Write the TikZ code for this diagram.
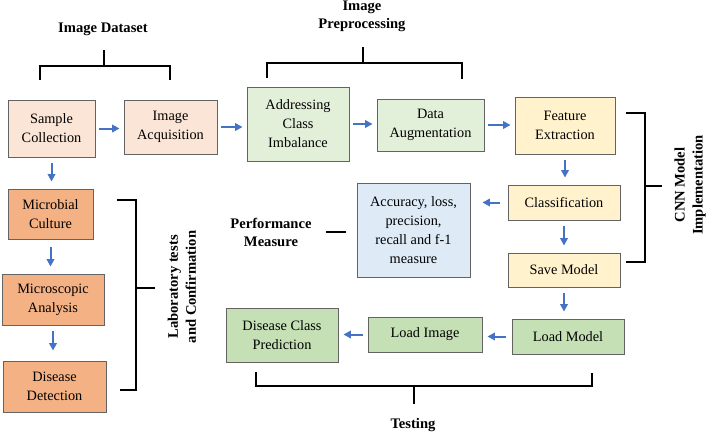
\documentclass[tikz,border=0pt]{standalone}
\usepackage{fontspec}
\setmainfont{Liberation Serif}
\usetikzlibrary{positioning,arrows.meta}

\definecolor{boxline}{HTML}{636363}
\definecolor{flowblue}{HTML}{4472C4}
\definecolor{peach}{HTML}{FBE5D6}
\definecolor{labor}{HTML}{F4B183}
\definecolor{paleg}{HTML}{E2F0D9}
\definecolor{leafg}{HTML}{C5E0B4}
\definecolor{cream}{HTML}{FFF2CC}
\definecolor{skyb}{HTML}{DEEBF7}

\begin{document}
\begin{tikzpicture}[x=1pt,y=-1pt,>={Triangle[length=7.5pt,width=7.5pt]},
    box/.style={draw=boxline, line width=0.9pt, rectangle, inner sep=0pt, align=center, font=\fontsize{14.3}{19}\selectfont},
    flow/.style={->, draw=flowblue, fill=flowblue, line width=2pt, shorten >=4pt, shorten <=4pt},
    drop/.style={flow, shorten >=7pt, shorten <=6pt},
    brace/.style={line width=2.2pt},
    heading/.style={font=\fontsize{14.6}{18}\selectfont\bfseries, align=center}]
    \useasboundingbox (0,0) rectangle (708,434);

    % image dataset and preprocessing row
    \node[box, fill=peach, minimum width=87pt, minimum height=57pt] (sample) at (51.5,128.5) {Sample\\Collection};
    \node[box, fill=peach, minimum width=93pt, minimum height=54pt] (acq) at (170.5,127) {Image\\Acquisition};
    \node[box, fill=paleg, minimum width=102pt, minimum height=74pt] (imbal) at (298,124) {Addressing\\Class\\Imbalance};
    \node[box, fill=paleg, minimum width=107pt, minimum height=52pt] (augm) at (430.5,125) {Data\\Augmentation};

    % cnn model
    \node[box, fill=cream, minimum width=100pt, minimum height=57pt] (feat) at (565,125.5) {Feature\\Extraction};
    \node[box, fill=cream, minimum width=112pt, minimum height=35pt] (classif) at (564,202.5) {Classification};
    \node[box, fill=cream, minimum width=112pt, minimum height=34pt] (savem) at (564,270) {Save Model};
    \node[box, fill=skyb, minimum width=113pt, minimum height=94pt] (perf) at (413.5,230) {Accuracy, loss,\\precision,\\recall and f-1\\measure};

    % testing
    \node[box, fill=leafg, minimum width=112pt, minimum height=35pt] (loadm) at (568,336.5) {Load Model};
    \node[box, fill=leafg, minimum width=114pt, minimum height=35pt] (loadi) at (425,334.5) {Load Image};
    \node[box, fill=leafg, minimum width=112pt, minimum height=54pt] (pred) at (282,335) {Disease Class\\Prediction};

    % laboratory column
    \node[box, fill=labor, minimum width=85pt, minimum height=50pt] (micro) at (50.5,214) {Microbial\\Culture};
    \node[box, fill=labor, minimum width=102pt, minimum height=51pt] (scope) at (53,299.5) {Microscopic\\Analysis};
    \node[box, fill=labor, minimum width=103pt, minimum height=51pt] (detect) at (54.5,386.5) {Disease\\Detection};

    \draw[flow] (sample.east) -- (sample.east -| acq.west);
    \draw[flow] (acq.east) -- (acq.east -| imbal.west);
    \draw[flow] (imbal.east) -- (imbal.east -| augm.west);
    \draw[flow] (augm.east) -- (augm.east -| feat.west);
    \draw[drop] (feat.south) -- (feat.south |- classif.north);
    \draw[flow, shorten >=12pt, shorten <=8pt] (classif.west) -- (classif.west -| perf.east);
    \draw[drop] (classif.south) -- (classif.south |- savem.north);
    \draw[drop] (savem.south) -- (savem.south |- loadm.north);
    \draw[flow, shorten >=5pt, shorten <=6pt] (loadm.west) -- (loadm.west -| loadi.east);
    \draw[flow, shorten >=5pt, shorten <=5pt] (loadi.west) -- (loadi.west -| pred.east);
    \draw[drop] (sample.south) -- (sample.south |- micro.north);
    \draw[drop, shorten <=8pt] (micro.south) -- (micro.south |- scope.north);
    \draw[drop, shorten >=10pt] (scope.south) -- (scope.south |- detect.north);

    % group brackets and labels
    \node[heading] (dataset) at (103,29) {Image Dataset};
    \draw[brace] (40,80) -- (40,66) -- (170,66) -- (170,80);
    \draw[brace] (104,66) -- (104,50);

    \node[heading] (preproc) at (362,16) {Image\\Preprocessing};
    \draw[brace] (267,78) -- (267,63) -- (462,63) -- (462,79);
    \draw[brace] (363,63) -- (363,47);

    \node[heading, rotate=90] (cnn) at (690,185) {CNN Model\\Implementation};
    \draw[brace] (626,113) -- (645,113) -- (645,262) -- (626,262);
    \draw[brace] (645,186) -- (662,186);

    \node[heading, rotate=90] (labtest) at (182,287) {Laboratory tests\\and Confirmation};
    \draw[brace] (117,200) -- (136,200) -- (136,390) -- (120,390);
    \draw[brace] (136,288) -- (155,288);

    \node[heading] (measure) at (271,232) {Performance\\Measure};
    \draw[brace] (326,232) -- (346,232);

    \node[heading] (testing) at (413,425) {Testing};
    \draw[brace] (256,372) -- (256,386) -- (592,386) -- (592,373);
    \draw[brace] (414,386) -- (414,404);
\end{tikzpicture}
\end{document}
